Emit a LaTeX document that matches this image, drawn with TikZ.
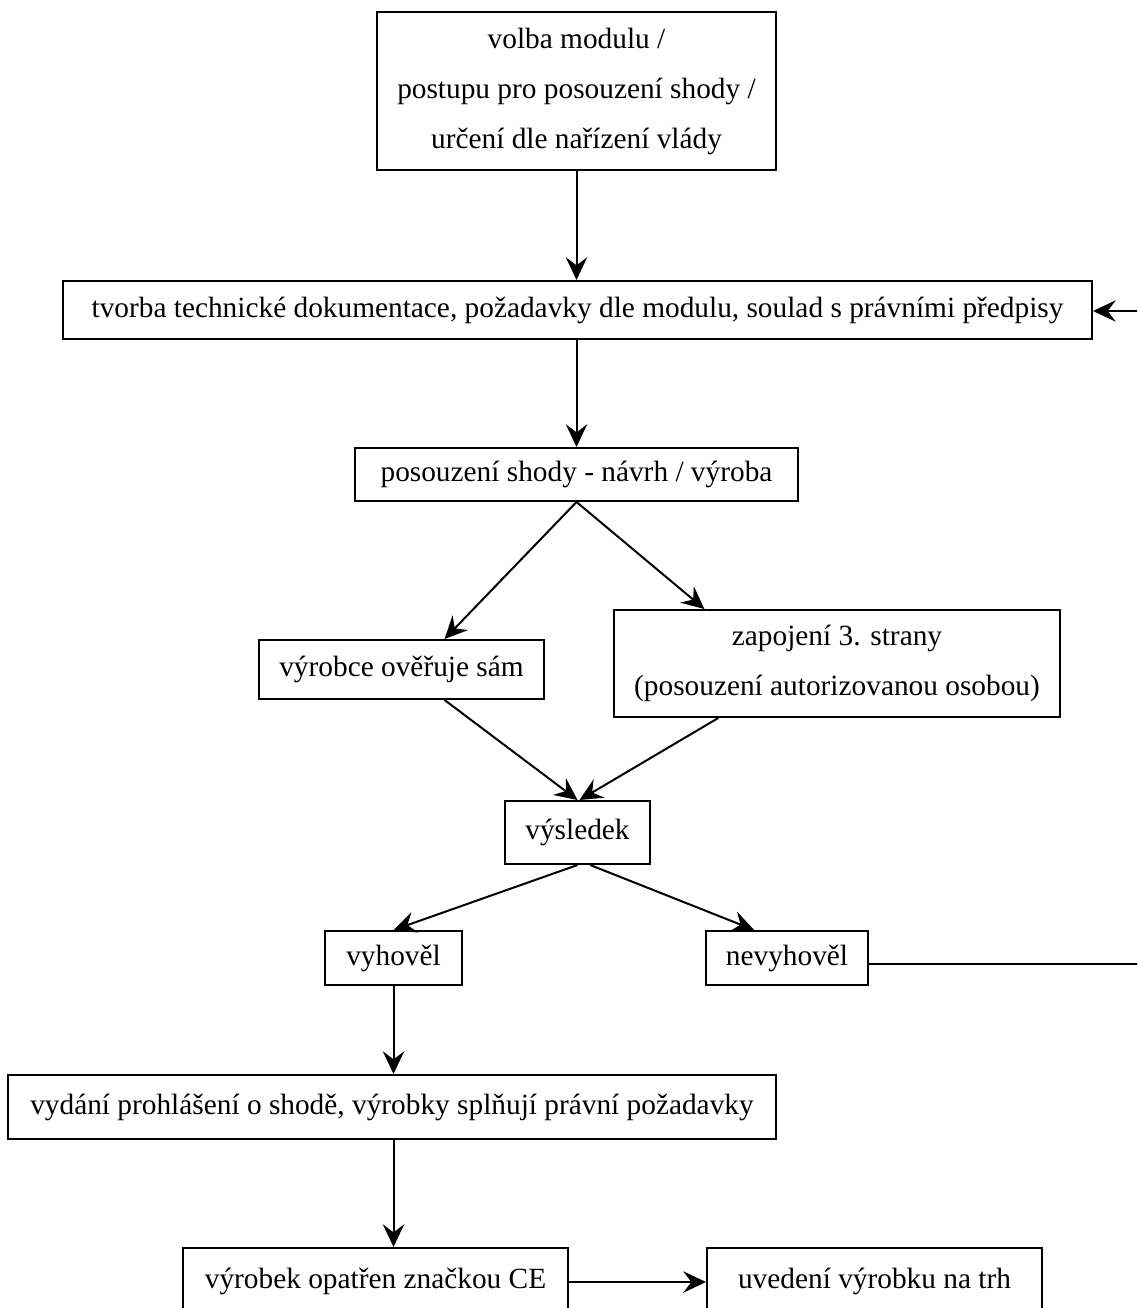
\documentclass[tikz,border=0pt]{standalone}
\usepackage{fontspec}
\setmainfont{Liberation Serif}
\usetikzlibrary{arrows.meta,calc}
\begin{document}
\begin{tikzpicture}[x=0.75pt,y=-0.75pt,
  wh/.style 2 args={minimum width=#1*0.75pt, minimum height=#2*0.75pt},
  box/.style={draw, line width=1.5pt, inner sep=0pt, align=center,
    font=\fontsize{22}{37.5}\selectfont},
  arr/.style={line width=1.5pt, -{Stealth[length=17pt,width=16pt,inset=6pt]}},
  ln/.style={line width=1.5pt}]
\clip (0,0) rectangle (1137,1308);
\fill[white] (0,0) rectangle (1137,1308);

\node[box, wh={399}{158}] (b1) at (576.5,91) {volba modulu /\\ postupu pro posouzení shody /\\ určení dle nařízení vlády};
\node[box, wh={1029}{58}] (tvo) at (577.5,310) {tvorba technické dokumentace, požadavky dle modulu, soulad s právními předpisy};
\node[box, wh={443}{53}] (pos) at (576.5,474.5) {posouzení shody - návrh / výroba};
\node[box, wh={285}{59}] (vyr) at (401.5,669.5) {výrobce ověřuje sám};
\node[box, wh={446}{107}] (zap) at (837,663.5) {zapojení 3. strany\\ (posouzení autorizovanou osobou)};
\node[box, wh={145}{63}] (vys) at (577.5,832.5) {výsledek};
\node[box, wh={137}{54}] (vyh) at (393.5,958) {vyhověl};
\node[box, wh={162}{54}] (nev) at (787,958) {nevyhověl};
\node[box, wh={768}{64}] (vyd) at (392,1107) {vydání prohlášení o shodě, výrobky splňují právní požadavky};
\node[box, wh={385}{76}] (ozn) at (375.5,1286) {\raisebox{12pt}{výrobek opatřen značkou CE}};
\node[box, wh={335}{76}] (uve) at (874.5,1286) {\raisebox{12pt}{uvedení výrobku na trh}};

\coordinate (fb) at (1140,311);
\coordinate (nv) at (1140,964);
\coordinate (vb) at (vyd.south -| vyh.south);
\coordinate (oe) at (1000,1282);

\draw[arr] (b1.south) -- (b1.south |- tvo.north);
\draw[arr] (tvo.south -| pos.north) -- (pos.north);
\draw[arr] (pos.south) -- ($(vyr.north west)!0.65!(vyr.north east)$);
\draw[arr] (pos.south) -- ($(zap.north west)!0.204!(zap.north east)$);
\draw[arr] ($(vyr.south west)!0.65!(vyr.south east)$) -- (vys.north);
\draw[arr] ($(zap.south west)!0.235!(zap.south east)$) -- ($(vys.north)+(2,0)$);
\draw[arr] (vys.south) -- (vyh.north);
\draw[arr] ($(vys.south west)!0.586!(vys.south east)$) -- ($(nev.north west)!0.30!(nev.north east)$);
\draw[arr] (vyh.south) -- (vyh.south |- vyd.north);
\draw[arr] (vb) -- (vb |- ozn.north);
\draw[arr] (oe -| ozn.east) -- (oe -| uve.west);
\draw[ln] (nv -| nev.east) -- (nv);
\draw[arr] (fb) -- (fb -| tvo.east);
\end{tikzpicture}
\end{document}
